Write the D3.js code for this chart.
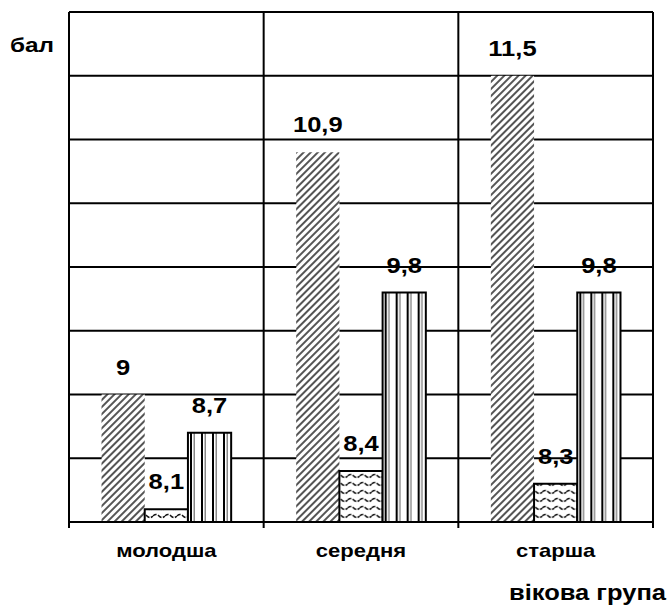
<!DOCTYPE html>
<html>
<head>
<meta charset="utf-8">
<script src="https://cdn.jsdelivr.net/npm/d3@7"></script>
<style>
  html, body { margin: 0; padding: 0; background: #fff; }
  svg { display: block; }
  text { font-family: Arial, "Liberation Sans", sans-serif; font-weight: bold; fill: #000; }
</style>
</head>
<body>
<svg id="chart" width="672" height="616"></svg>
<script>
// Age groups and the three score series (бал)
const categories = ["молодша", "середня", "старша"];
const seriesA = [9, 10.9, 11.5];
const seriesB = [8.1, 8.4, 8.3];
const seriesC = [8.7, 9.8, 9.8];
const seriesKeys = ["a", "b", "c"];
const gridValues = [8.5, 9, 9.5, 10, 10.5, 11, 11.5, 12];
const yAxisTitle = "бал";
const xAxisTitle = "вікова група";

const fmt = v => String(v).replace(".", ",");
const stretch = 1.16; // wide bold lettering
const place = (px, py) => `translate(${px},${py}) scale(${stretch},1)`;

const svg = d3.select("#chart");
const plotLeft = 69, plotRight = 653, plotTop = 12, plotBottom = 522;

const x = d3.scaleBand().domain(categories).range([plotLeft, plotRight]).padding(0);
const xi = d3.scaleBand().domain(seriesKeys)
  .range([x.bandwidth() * 0.167, x.bandwidth() * 0.833]).padding(0);
const y = d3.scaleLinear().domain([8, 12]).range([plotBottom, plotTop]);

// Fill patterns
const defs = svg.append("defs");
const pDiag = defs.append("pattern").attr("id", "diag")
  .attr("patternUnits", "userSpaceOnUse").attr("width", 5).attr("height", 5)
  .attr("patternTransform", "rotate(45)");
pDiag.append("rect").attr("width", 5).attr("height", 5).attr("fill", "#fff");
pDiag.append("line").attr("x1", 1).attr("y1", 0).attr("x2", 1).attr("y2", 5)
  .attr("stroke", "#555").attr("stroke-width", 2);

const pWave = defs.append("pattern").attr("id", "wave")
  .attr("patternUnits", "userSpaceOnUse").attr("width", 12).attr("height", 8);
pWave.append("rect").attr("width", 12).attr("height", 8).attr("fill", "#fff");
pWave.append("path").attr("d", "M0,4 Q3,1 6,4 T12,4")
  .attr("fill", "none").attr("stroke", "#111").attr("stroke-width", 1.6)
  .attr("stroke-dasharray", "4,1.5");

const pVert = defs.append("pattern").attr("id", "vert")
  .attr("patternUnits", "userSpaceOnUse").attr("width", 11).attr("height", 10);
pVert.append("rect").attr("width", 11).attr("height", 10).attr("fill", "#fff");
pVert.append("rect").attr("x", 0).attr("width", 2).attr("height", 10).attr("fill", "#000");
pVert.append("rect").attr("x", 3.5).attr("width", 1.5).attr("height", 10).attr("fill", "#888");

// Horizontal gridlines
svg.append("g").selectAll("line").data(gridValues).join("line")
  .attr("x1", plotLeft).attr("x2", plotRight)
  .attr("y1", d => y(d)).attr("y2", d => y(d))
  .attr("stroke", "#000").attr("stroke-width", 2);

// Vertical category separators (with small ticks under the axis)
const seps = categories.map(c => x(c)).concat([plotRight]);
svg.append("g").selectAll("line").data(seps).join("line")
  .attr("x1", d => d).attr("x2", d => d)
  .attr("y1", plotTop).attr("y2", plotBottom + 6)
  .attr("stroke", "#000").attr("stroke-width", 2);

// Bars
const rows = categories.map((c, i) => ({
  cat: c,
  vals: [
    { key: "a", v: seriesA[i], fill: "url(#diag)", stroke: "none" },
    { key: "b", v: seriesB[i], fill: "url(#wave)", stroke: "#000" },
    { key: "c", v: seriesC[i], fill: "url(#vert)", stroke: "#000" }
  ]
}));

const groups = svg.append("g").selectAll("g").data(rows).join("g")
  .attr("transform", d => `translate(${x(d.cat)},0)`);

groups.selectAll("rect").data(d => d.vals).join("rect")
  .attr("x", d => xi(d.key))
  .attr("width", xi.bandwidth())
  .attr("y", d => y(d.v))
  .attr("height", d => y(8) - y(d.v))
  .attr("fill", d => d.fill)
  .attr("stroke", d => d.stroke)
  .attr("stroke-width", 2);

// X axis baseline over the bars
svg.append("line").attr("x1", plotLeft).attr("x2", plotRight)
  .attr("y1", plotBottom).attr("y2", plotBottom)
  .attr("stroke", "#000").attr("stroke-width", 2);

// Value labels
groups.selectAll("text").data(d => d.vals).join("text")
  .attr("transform", d => place(xi(d.key) + xi.bandwidth() / 2, y(d.v) - 20))
  .attr("text-anchor", "middle")
  .attr("font-size", 22)
  .text(d => fmt(d.v));

// Category labels
svg.append("g").selectAll("text").data(categories).join("text")
  .attr("transform", d => place(x(d) + x.bandwidth() / 2, 557))
  .attr("text-anchor", "middle")
  .attr("font-size", 19)
  .text(d => d);

// Axis titles
svg.append("text").attr("transform", place(10, 52))
  .attr("font-size", 21).text(yAxisTitle);
svg.append("text").attr("transform", place(666, 600))
  .attr("text-anchor", "end")
  .attr("font-size", 22).text(xAxisTitle);
</script>
</body>
</html>
